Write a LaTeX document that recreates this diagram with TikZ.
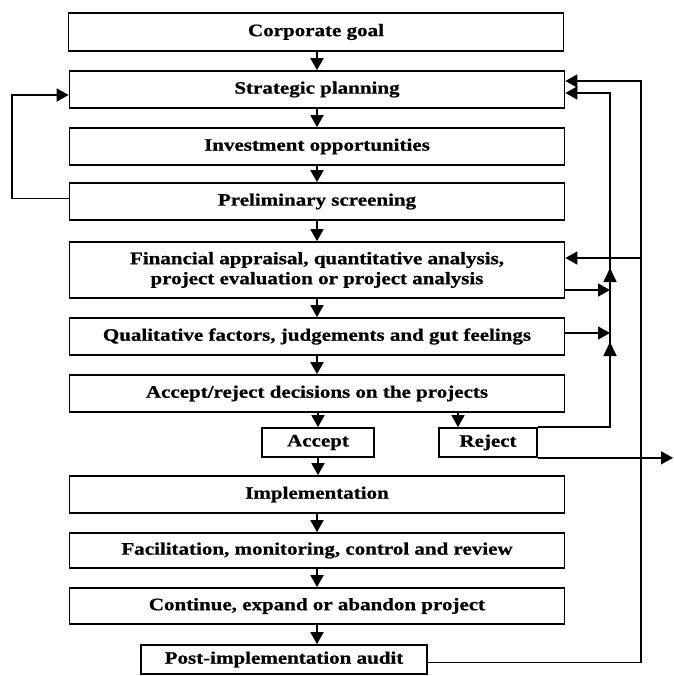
\documentclass[tikz,border=0pt]{standalone}
\usepackage{fontspec}
\setmainfont{Liberation Serif}[FakeStretch=1.2,BoldFeatures={FakeBold=0.8}]
\usetikzlibrary{arrows.meta,calc}
\begin{document}
\begin{tikzpicture}[x=1pt,y=-1pt,
  every node/.style={font=\fontsize{17.5}{20}\selectfont\bfseries},
  stage/.style={draw,line width=1.7pt,inner sep=0pt,align=center,minimum width=495pt,minimum height=37pt},
  link/.style={line width=1.7pt},
  arr/.style={link,-{Triangle[length=12pt,width=13pt]}},
  tip/.style={link,-{Triangle[length=14pt,width=13pt]}}]
\useasboundingbox (0,0) rectangle (673,676);

% main column of stages
\node[stage,minimum height=38pt] (goal)   at (316,32)    {Corporate goal};
\node[stage] (strat)  at (317,89.5)  {Strategic planning};
\node[stage] (invest) at (317,146.5) {Investment opportunities};
\node[stage] (prelim) at (317,201.5) {Preliminary screening};
\node[stage,minimum height=56pt] (fin) at (317,270) {Financial appraisal, quantitative analysis,\\ project evaluation or project analysis};
\node[stage] (qual)   at (317,336.5) {Qualitative factors, judgements and gut feelings};
\node[stage] (decide) at (317,393.5) {Accept/reject decisions on the projects};
\node[stage,minimum width=112pt,minimum height=29pt] (accept) at (318,442.5) {Accept};
\node[stage,minimum width=98pt,minimum height=29pt]  (reject) at (488,442.5) {Reject};
\node[stage] (impl)   at (317,494.5) {Implementation};
\node[stage,minimum height=35pt] (facil)  at (317,550.5) {Facilitation, monitoring, control and review};
\node[stage,minimum height=36pt] (cont)   at (317,606) {Continue, expand or abandon project};
\node[stage,minimum width=286pt,minimum height=29pt] (audit) at (284,659.5) {Post-implementation audit};

% downward flow
\draw[arr] (goal.south -| strat.north) -- (strat.north);
\draw[arr] (strat.south) -- (invest.north);
\draw[arr] (invest.south) -- (prelim.north);
\draw[arr] (prelim.south) -- (fin.north);
\draw[arr] (fin.south) -- (qual.north);
\draw[arr] (qual.south) -- (decide.north);
\draw[arr] (accept.north |- decide.south) -- (accept.north);
\coordinate (rx) at (458,0);
\draw[arr] (rx |- decide.south) -- (rx |- reject.north);
\draw[arr] (accept.south) -- (accept.south |- impl.north);
\draw[arr] (impl.south) -- (facil.north);
\draw[arr] (facil.south) -- (cont.north);
\draw[arr] (cont.south) -- (cont.south |- audit.north);

% screening loop back to planning
\coordinate (lb) at (12,0);
\draw[arr] ($(prelim.west)+(0,-3)$) -| (lb |- 0,95) -- (strat.west |- 0,95);

% outer feedback from the audit
\coordinate (ox) at (641,0);
\draw[arr] ($(audit.east)+(0,3)$) -| (ox |- 0,81) -- (strat.east |- 0,81);
\draw[arr] (ox |- 0,258) -- (fin.east |- 0,258);

% inner feedback from rejection
\coordinate (ix) at (610,0);
\draw[arr] (reject.north east) -| (ix |- 0,93) -- (strat.east |- 0,93);
\draw[tip] (ix |- 0,356) -- (ix |- 0,342);
\draw[tip] (ix |- 0,282) -- (ix |- 0,268);
\draw[arr] (fin.east |- 0,290) -- (ix |- 0,290);
\draw[arr] (qual.east |- 0,333) -- (ix |- 0,333);

% rejected projects leave the process
\draw[arr] (reject.south east) -- (reject.south east -| 673,0);
\end{tikzpicture}
\end{document}
